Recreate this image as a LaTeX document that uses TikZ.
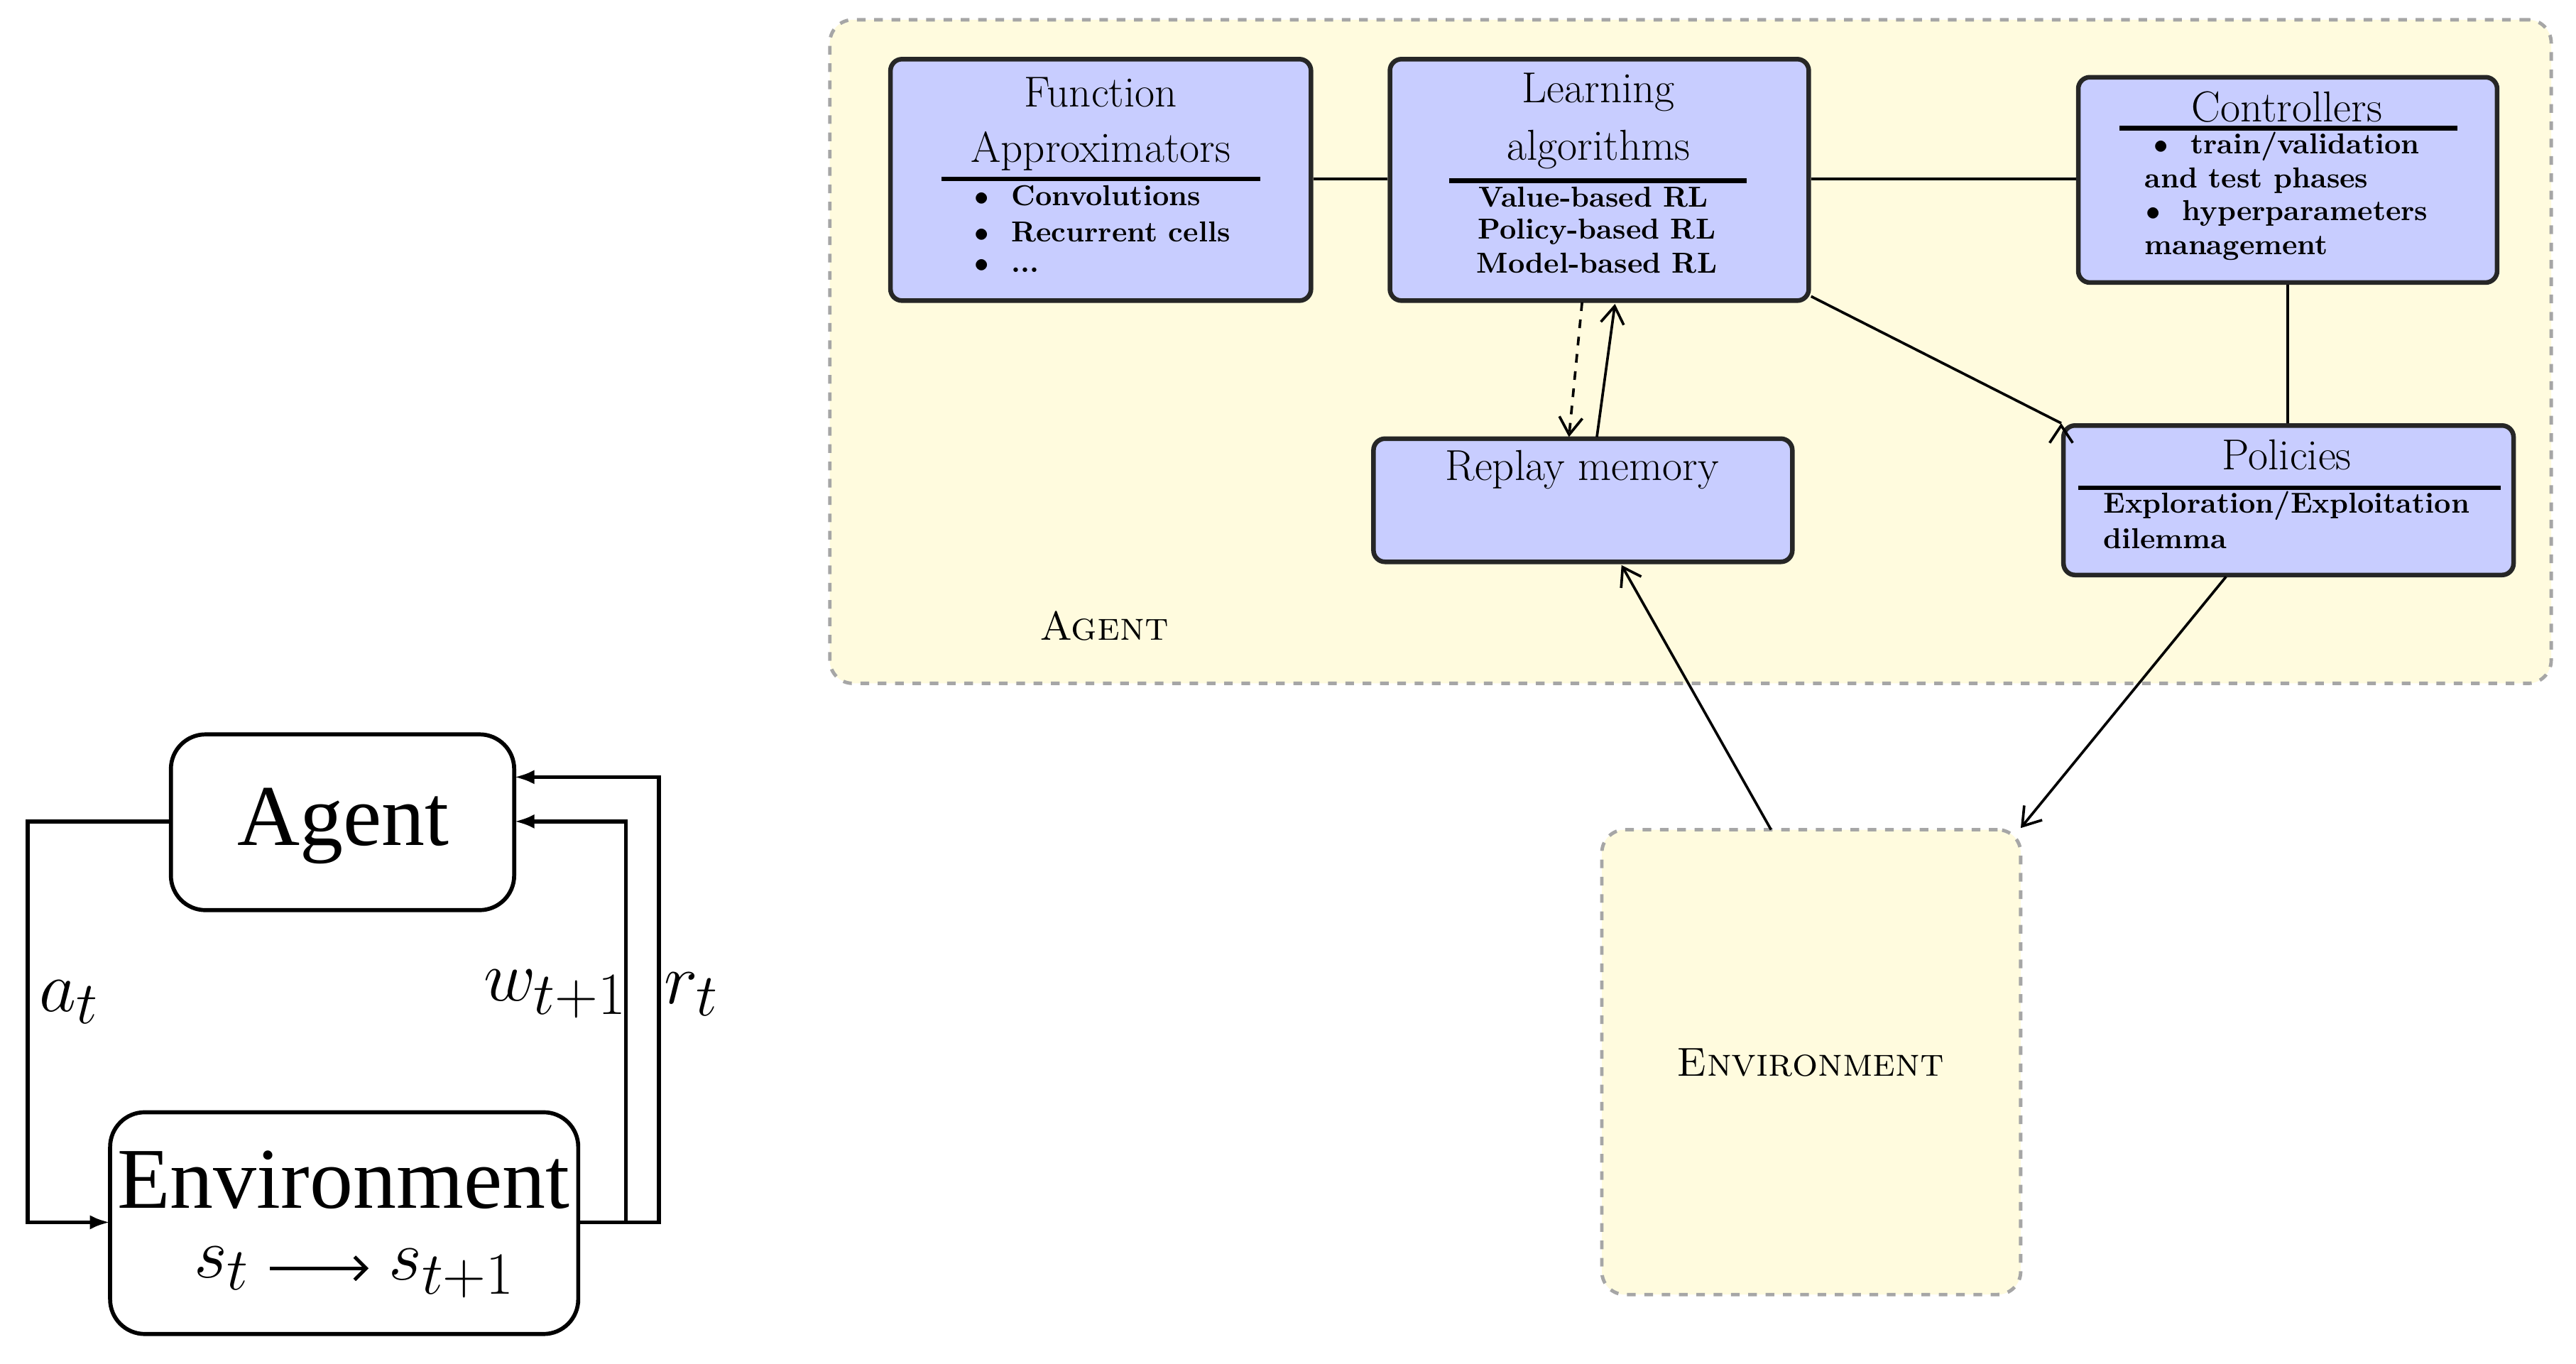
\documentclass[tikz,border=0pt]{standalone}
\usepackage{fontspec}
\newfontfamily\tms{Liberation Serif}
\usetikzlibrary{arrows.meta}
\definecolor{agbg}{RGB}{255,251,222}
\definecolor{bx}{RGB}{200,205,255}
\begin{document}
\begin{tikzpicture}[x=0.02cm,y=-0.02cm,
  cont/.style={draw=gray!70,dashed,line width=1.2pt,fill=agbg,rounded corners=8pt},
  box/.style={draw=black!85,line width=1.6pt,fill=bx,rounded corners=4pt,inner sep=0pt},
  ttl/.style={font=\fontsize{15}{17}\selectfont,inner sep=0pt},
  sm/.style={font=\fontsize{10}{12}\selectfont\bfseries,inner sep=0pt},
  lbx/.style={draw,line width=1.4pt,rounded corners=12pt,inner sep=0pt},
  big/.style={font=\tms\fontsize{30}{34}\selectfont,inner sep=0pt},
  arr/.style={-{Straight Barb[length=6pt,width=8pt]},line width=0.9pt},
  larr/.style={-{Latex[length=7pt,width=5pt]},line width=1.4pt},
  rule/.style={line width=1.5pt}]
\useasboundingbox (0,0) rectangle (1568,830);
\fill[white] (0,0) rectangle (1568,830);
% containers
\node[cont,minimum width=20.96cm,minimum height=8.08cm] (agent) at (1029,214) {};
\node[cont,minimum width=5.1cm,minimum height=5.66cm] (env) at (1102.5,646.5) {};
\node[font=\fontsize{14}{16}\selectfont\scshape] (agl) at (672,381) {Agent};
\node[font=\fontsize{14}{16}\selectfont\scshape] (envl) at (1102,647) {Environment};
% boxes
\node[box,minimum width=5.12cm,minimum height=2.94cm] (fa) at (670,109.5) {};
\node[box,minimum width=5.1cm,minimum height=2.94cm] (la) at (973.5,109.5) {};
\node[box,minimum width=5.1cm,minimum height=2.5cm] (ct) at (1392.5,109.5) {};
\node[box,minimum width=5.1cm,minimum height=1.5cm] (rm) at (963.5,304.5) {};
\node[box,minimum width=5.48cm,minimum height=1.82cm] (po) at (1393,304.5) {};
% FA text
\node[ttl] (fa1) at (670,56) {Function};
\node[ttl] (fa2) at (670,92) {Approximators};
\draw[rule] (573,109) -- (767,109);
\node[sm,anchor=west] (fa3) at (593,119) {$\bullet$\ \ Convolutions};
\node[sm,anchor=west] (fa4) at (593,141) {$\bullet$\ \ Recurrent cells};
\node[sm,anchor=west] (fa5) at (593,162) {$\bullet$\ \ ...};
% LA text
\node[ttl] (la1) at (973,56) {Learning};
\node[ttl] (la2) at (973,91) {algorithms};
\draw[rule] (882,110) -- (1063,110);
\node[sm] (la3) at (970,120) {Value-based RL};
\node[sm] (la4) at (972,141) {Policy-based RL};
\node[sm] (la5) at (972,160) {Model-based RL};
% Controllers
\node[ttl] (ct1) at (1392,65) {Controllers};
\draw[rule] (1290,78) -- (1496,78);
\node[sm] (ct2) at (1392,89) {$\bullet$\ \ train/validation};
\node[sm,anchor=west] (ct3) at (1305,110) {and test phases};
\node[sm] (ct4) at (1392,130) {$\bullet$\ \ hyperparameters};
\node[sm,anchor=west] (ct5) at (1305,151) {management};
% Replay
\node[ttl] (rm1) at (963,286) {Replay memory};
% Policies
\node[ttl] (po1) at (1392,277) {Policies};
\draw[rule] (1265,297) -- (1522,297);
\node[sm,anchor=west] (po2) at (1280,308) {Exploration/Exploitation};
\node[sm,anchor=west] (po3) at (1280,328) {dilemma};
% connectors
\draw[line width=1pt] (fa.east |- 0,109) -- (la.west |- 0,109);
\draw[line width=1pt] (la.east |- 0,109) -- (ct.west |- 0,109);
\draw[line width=0.8pt] (ct.south) -- (ct.south |- po.north);
\draw[arr] (la.south east) ++(0,-4) -- (po.north west) ++(0,0);
\coordinate (d1) at (963,184); \coordinate (d2) at (955,266);
\draw[arr,dashed] (d1) -- (d2);
\coordinate (u1) at (972,266); \coordinate (u2) at (983,185);
\draw[arr] (u1) -- (u2);
\coordinate (e1) at (1078,505); \coordinate (r1) at (987,344);
\draw[arr] (e1) -- (r1);
\coordinate (p1) at (1355,351); \coordinate (e2) at (1230,504);
\draw[arr] (p1) -- (e2);
% left diagram
\node[lbx,minimum width=4.18cm,minimum height=2.14cm] (ag) at (208.5,500.5) {};
\node[big] (agt) at (209,503) {Agent};
\node[lbx,minimum width=5.7cm,minimum height=2.7cm] (en) at (209.5,744.5) {};
\node[big] (ent) at (209,718) {Environment};
\node[big] (s1) at (135,772) {$s_t$};
\node[big] (s2) at (275,775) {$s_{t+1}$};
\draw[-{Straight Barb[length=4pt]},line width=1.2pt] (s1.east) ++(12,0) -- ++(60,0);
\draw[larr] (104,500) -- (17,500) -- (17,744) -- (67,744);
\draw[larr] (352,744) -- (381,744) -- (381,500) -- (313,500);
\draw[larr] (352,744) -- (401,744) -- (401,473) -- (313,473);
\node[big] (at) at (42,610) {$a_t$};
\node[big] (wt) at (338,605) {$w_{t+1}$};
\node[big] (rt) at (421,605) {$r_t$};
\end{tikzpicture}
\end{document}
